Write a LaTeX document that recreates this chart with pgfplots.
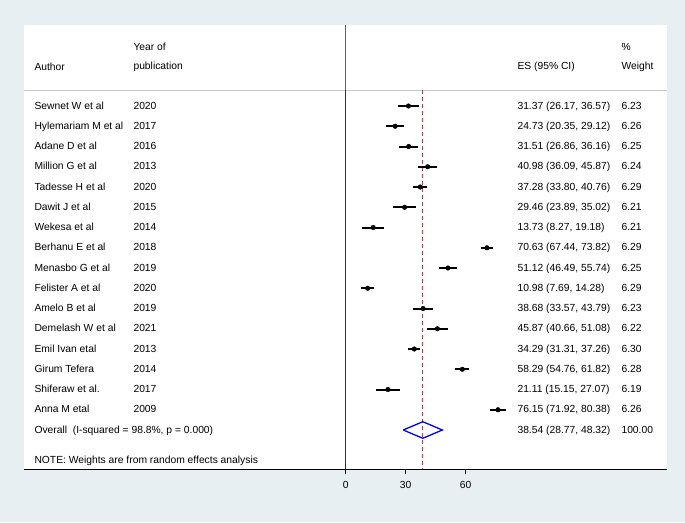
\documentclass[border=0pt]{standalone}
\usepackage{pgfplots}
\pgfplotsset{compat=1.18}
\usepackage{pgfplotstable}
\usepackage{fontspec}
\setmainfont{Liberation Sans}
\definecolor{bgc}{RGB}{232,239,242}
\definecolor{redline}{RGB}{235,35,35}
\definecolor{brownline}{RGB}{90,30,30}
\definecolor{dashc}{RGB}{170,70,80}
\definecolor{gridc}{RGB}{200,200,200}

\pgfplotstableread{
y x ep em
106 31.37 5.20 5.20
126.25 24.73 4.39 4.38
146.5 31.51 4.65 4.65
166.75 40.98 4.89 4.89
187 37.28 3.48 3.48
207.25 29.46 5.56 5.57
227.5 13.73 5.45 5.46
247.75 70.63 3.19 3.19
268 51.12 4.62 4.63
288.25 10.98 3.30 3.29
308.5 38.68 5.11 5.11
328.75 45.87 5.21 5.21
349 34.29 2.97 2.98
369.25 58.29 3.53 3.53
389.5 21.11 5.96 5.96
409.75 76.15 4.23 4.23
}\studies

\begin{document}
\begin{tikzpicture}[x=1pt,y=1pt,font=\fontsize{10.3}{12}\selectfont]
\fill[bgc] (0,0) rectangle (685,522);
\fill[white] (24,53) rectangle (667,497);
\begin{axis}[
  at={(24pt,53pt)}, anchor=south west,
  scale only axis, width=643pt, height=444pt,
  xmin=-160.85, xmax=160.65,
  ymin=25, ymax=469, y dir=reverse,
  axis x line=bottom, axis y line=none,
  axis line style={-, black, line width=1pt},
  xtick={0,30,60}, xticklabels={0,30,60},
  ytick=\empty,
  tick align=outside, major tick length=5pt,
  tick style={black, line width=0.8pt},
  x tick label style={font=\fontsize{10.3}{12}\selectfont, yshift=-4pt, /pgf/number format/assume math mode=true},
  clip=false,
]
% header separator
\addplot[color=gridc, line width=1pt] coordinates {(-160.85,90) (160.65,90)};
% null line
\addplot[color=redline, line width=1.5pt] coordinates {(0,25) (0,90)};
\addplot[color=brownline, line width=1.5pt] coordinates {(0,90) (0,469)};
% overall dashed line
\addplot[color=dashc, line width=0.9pt, dash pattern=on 4pt off 3pt] coordinates {(38.54,90) (38.54,469)};
% CIs and points
\addplot[only marks, color=black, mark=*, mark size=2.3pt,
  mark options={draw=black, fill=black},
  error bars/.cd, x dir=both, x explicit, error mark=none,
  error bar style={line width=2pt, color=black}]
  table[x=x, y=y, x error plus=ep, x error minus=em] {\studies};
% overall diamond
\addplot[color=blue, line width=1.3pt] coordinates {(28.77,430) (38.54,421.7) (48.32,430) (38.54,438.3) (28.77,430)};
\end{axis}
% header text
\node[anchor=west] at (31,522-67) {Author};
\node[anchor=west] at (130,522-47) {Year of};
\node[anchor=west] at (130,522-67) {publication};
\node[anchor=west] at (514,522-67) {ES (95\% CI)};
\node[anchor=west] at (618,522-47) {\%};
\node[anchor=west] at (618,522-67) {Weight};
\foreach \yy/\au/\yr/\es/\w in {
106/Sewnet W et al/2020/{31.37 (26.17, 36.57)}/6.23,
126.25/Hylemariam M et al/2017/{24.73 (20.35, 29.12)}/6.26,
146.5/Adane D et al/2016/{31.51 (26.86, 36.16)}/6.25,
166.75/Million G et al/2013/{40.98 (36.09, 45.87)}/6.24,
187/Tadesse H et al/2020/{37.28 (33.80, 40.76)}/6.29,
207.25/Dawit J et al/2015/{29.46 (23.89, 35.02)}/6.21,
227.5/Wekesa et al/2014/{13.73 (8.27, 19.18)}/6.21,
247.75/Berhanu E et al/2018/{70.63 (67.44, 73.82)}/6.29,
268/Menasbo G et al/2019/{51.12 (46.49, 55.74)}/6.25,
288.25/Felister A et al/2020/{10.98 (7.69, 14.28)}/6.29,
308.5/Amelo B et al/2019/{38.68 (33.57, 43.79)}/6.23,
328.75/Demelash W et al/2021/{45.87 (40.66, 51.08)}/6.22,
349/Emil Ivan etal/2013/{34.29 (31.31, 37.26)}/6.30,
369.25/Girum Tefera/2014/{58.29 (54.76, 61.82)}/6.28,
389.5/Shiferaw et al./2017/{21.11 (15.15, 27.07)}/6.19,
409.75/Anna M etal/2009/{76.15 (71.92, 80.38)}/6.26}{
  \node[anchor=west, text height=1.6ex, text depth=0.4ex] at (31,522-\yy) {\au};
  \node[anchor=west, text height=1.6ex, text depth=0.4ex] at (130,522-\yy) {\yr};
  \node[anchor=west, text height=1.6ex, text depth=0.4ex] at (514,522-\yy) {\es};
  \node[anchor=west, text height=1.6ex, text depth=0.4ex] at (618,522-\yy) {\w};
}
\node[anchor=west, text height=1.6ex, text depth=0.4ex] at (31,522-430) {Overall\ \ (I-squared = 98.8\%, p = 0.000)};
\node[anchor=west, text height=1.6ex, text depth=0.4ex] at (514,522-430) {38.54 (28.77, 48.32)};
\node[anchor=west, text height=1.6ex, text depth=0.4ex] at (618,522-430) {100.00};
\node[anchor=west, text height=1.6ex, text depth=0.4ex] at (31,522-460) {NOTE: Weights are from random effects analysis};
\pgfresetboundingbox
\path (0,0) rectangle (685,522);
\end{tikzpicture}
\end{document}
